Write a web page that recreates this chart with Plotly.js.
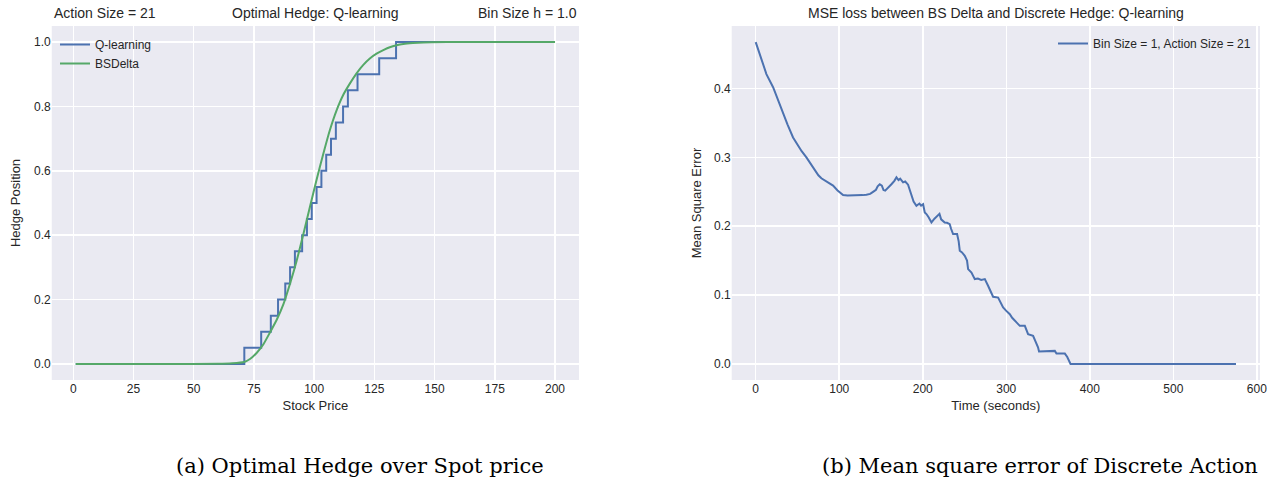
<!DOCTYPE html>
<html>
<head>
<meta charset="utf-8">
<script src="https://cdn.plot.ly/plotly-3.0.1.min.js"></script>
<style>
  html, body { margin: 0; padding: 0; background: #ffffff; }
  #chart { width: 1283px; height: 481px; }
</style>
</head>
<body>
<div id="chart"></div>
<script>
// ---------- Data ----------
// (a) Optimal hedge over spot price
const qPrice = [1, 71, 78, 82, 85, 88, 90, 92, 95, 97, 99, 101, 103, 105, 107, 109, 112, 114, 118, 127, 134, 200];
const qHedge = [0, 0.05, 0.10, 0.15, 0.20, 0.25, 0.30, 0.35, 0.40, 0.45, 0.50, 0.55, 0.60, 0.65, 0.70, 0.75, 0.80, 0.85, 0.90, 0.95, 1.00, 1.00];

const bsPrice = [1, 40, 60, 66, 70.9, 73.5, 76.1, 79, 81.6, 84.5, 87.2, 90, 92.7, 95.5, 98.2, 101, 103.8, 106.5, 109.3, 112, 114.8, 117.6, 120.4, 123.1, 125.9, 128.7, 131.4, 134.2, 137, 141, 145.3, 155, 170, 200];
const bsDelta = [0, 0, 0.0003, 0.002, 0.006, 0.016, 0.034, 0.062, 0.097, 0.138, 0.185, 0.250, 0.320, 0.403, 0.487, 0.572, 0.653, 0.726, 0.788, 0.835, 0.871, 0.903, 0.929, 0.949, 0.964, 0.975, 0.984, 0.990, 0.994, 0.997, 0.999, 1.0, 1.0, 1.0];

// (b) MSE between BS delta and discrete hedge
const mseTime = [0, 5.6, 12.8, 20.8, 26, 32.7, 38, 44.7, 50.7, 55, 60.7, 66, 70.7, 75, 78.6, 85, 92.6, 98, 104.6, 110, 116.6, 122, 128, 132.5, 137, 140.5, 144, 146, 148.5, 151, 153, 155, 158, 162.5, 166, 168.5, 171, 173, 176.4, 179, 182.4, 184, 186.4, 189, 192.4, 196, 198, 200.4, 202.4, 204.4, 207, 210.4, 214, 217, 220, 222, 226.3, 229, 232.3, 234, 236.3, 241.1, 243, 244.3, 247, 250.3, 253, 254.3, 258.3, 262.3, 266, 270, 274.3, 278.2, 281, 284.2, 290.2, 293, 296.2, 300, 304.2, 307, 310.2, 313, 316.2, 322.2, 324, 326.1, 332.1, 334, 336.1, 338, 339.2, 350, 358.1, 360.1, 370.1, 373, 376.9, 450, 575];
const mseLoss = [0.4675, 0.448, 0.421, 0.402, 0.385, 0.363, 0.348, 0.329, 0.317, 0.309, 0.300, 0.290, 0.281, 0.274, 0.2696, 0.265, 0.259, 0.252, 0.2453, 0.2445, 0.2444, 0.2450, 0.2452, 0.2458, 0.247, 0.250, 0.253, 0.258, 0.261, 0.259, 0.2525, 0.2516, 0.256, 0.261, 0.266, 0.271, 0.267, 0.269, 0.2637, 0.265, 0.2604, 0.255, 0.2444, 0.236, 0.2298, 0.233, 0.230, 0.232, 0.220, 0.2177, 0.213, 0.2055, 0.211, 0.215, 0.218, 0.210, 0.2055, 0.205, 0.203, 0.196, 0.1886, 0.1886, 0.178, 0.1644, 0.162, 0.157, 0.150, 0.1377, 0.1328, 0.1232, 0.124, 0.122, 0.1232, 0.1135, 0.106, 0.0975, 0.0964, 0.089, 0.0819, 0.077, 0.0722, 0.067, 0.0625, 0.059, 0.0553, 0.0553, 0.050, 0.0432, 0.0407, 0.036, 0.031, 0.024, 0.0179, 0.0185, 0.0189, 0.015, 0.015, 0.010, 0.0, 0.0, 0.0];

const leftXTicks = [0, 25, 50, 75, 100, 125, 150, 175, 200];
const leftYTicks = [0, 0.2, 0.4, 0.6, 0.8, 1.0];
const rightXTicks = [0, 100, 200, 300, 400, 500, 600];
const rightYTicks = [0, 0.1, 0.2, 0.3, 0.4];

// ---------- Styling ----------
const W = 1283, H = 481;
const FONT = "Liberation Sans, Arial, sans-serif";
const TXT = "#262626";
const BLUE = "#4C72B0", GREEN = "#55A868";
const px = v => v / W;
const py = v => 1 - v / H;

const traces = [
  { x: qPrice, y: qHedge, type: "scatter", mode: "lines", name: "Q-learning",
    line: { color: BLUE, width: 2, shape: "hv" }, xaxis: "x", yaxis: "y", legend: "legend" },
  { x: bsPrice, y: bsDelta, type: "scatter", mode: "lines", name: "BSDelta",
    line: { color: GREEN, width: 2, shape: "spline", smoothing: 0.6 }, xaxis: "x", yaxis: "y", legend: "legend" },
  { x: mseTime, y: mseLoss, type: "scatter", mode: "lines", name: "Bin Size = 1, Action Size = 21",
    line: { color: BLUE, width: 2 }, xaxis: "x2", yaxis: "y2", legend: "legend2" }
];

const axisCommon = {
  showgrid: true, gridcolor: "#ffffff", gridwidth: 1.5,
  zeroline: false, showline: false, ticks: "",
  tickfont: { family: FONT, size: 12, color: TXT },
  automargin: false, fixedrange: true
};
const yDom = [1 - 380 / H, 1 - 26 / H];

const layout = {
  width: W, height: H,
  margin: { l: 0, r: 0, t: 0, b: 0 },
  paper_bgcolor: "#ffffff",
  plot_bgcolor: "#EAEAF2",
  font: { family: FONT, color: TXT },
  xaxis: Object.assign({}, axisCommon, {
    domain: [px(51.75), px(579)], range: [-8.95, 209.95],
    tickvals: leftXTicks, ticktext: leftXTicks.map(String),
    title: { text: "Stock Price", font: { family: FONT, size: 13, color: TXT }, standoff: 5 },
    anchor: "y"
  }),
  yaxis: Object.assign({}, axisCommon, {
    domain: yDom, range: [-0.05, 1.05],
    tickvals: leftYTicks, ticktext: leftYTicks.map(v => v.toFixed(1)),
    title: { text: "Hedge Position", font: { family: FONT, size: 13, color: TXT }, standoff: 10 },
    anchor: "x"
  }),
  xaxis2: Object.assign({}, axisCommon, {
    domain: [px(731.7), px(1260)], range: [-28.75, 603.75],
    tickvals: rightXTicks, ticktext: rightXTicks.map(String),
    title: { text: "Time (seconds)", font: { family: FONT, size: 13, color: TXT }, standoff: 5 },
    anchor: "y2"
  }),
  yaxis2: Object.assign({}, axisCommon, {
    domain: yDom, range: [-0.0234, 0.4909],
    tickvals: rightYTicks, ticktext: rightYTicks.map(v => v.toFixed(1)),
    title: { text: "Mean Square Error", font: { family: FONT, size: 13, color: TXT }, standoff: 9 },
    anchor: "x2"
  }),
  legend: {
    x: px(55), y: py(30), xanchor: "left", yanchor: "top",
    bgcolor: "rgba(0,0,0,0)", borderwidth: 0,
    font: { family: FONT, size: 12, color: TXT }, tracegroupgap: 0
  },
  legend2: {
    x: px(1256), y: py(29), xanchor: "right", yanchor: "top",
    bgcolor: "rgba(0,0,0,0)", borderwidth: 0,
    font: { family: FONT, size: 12, color: TXT }
  },
  showlegend: true,
  annotations: [
    { text: "Action Size = 21", xref: "paper", yref: "paper", x: px(51.75), y: py(13),
      xanchor: "left", yanchor: "middle", showarrow: false, font: { family: FONT, size: 14, color: TXT } },
    { text: "Optimal Hedge: Q-learning", xref: "paper", yref: "paper", x: px(315.4), y: py(13),
      xanchor: "center", yanchor: "middle", showarrow: false, font: { family: FONT, size: 14, color: TXT } },
    { text: "Bin Size h = 1.0", xref: "paper", yref: "paper", x: px(579), y: py(13),
      xanchor: "right", yanchor: "middle", showarrow: false, font: { family: FONT, size: 14, color: TXT } },
    { text: "MSE loss between BS Delta and Discrete Hedge: Q-learning", xref: "paper", yref: "paper",
      x: px(995.8), y: py(13), xanchor: "center", yanchor: "middle", showarrow: false,
      font: { family: FONT, size: 14, color: TXT } },
    { text: "(a) Optimal Hedge over Spot price", xref: "paper", yref: "paper", x: px(360), y: py(466),
      xanchor: "center", yanchor: "middle", showarrow: false,
      font: { family: "DejaVu Serif, serif", size: 21, color: "#000000" } },
    { text: "(b) Mean square error of Discrete Action", xref: "paper", yref: "paper", x: px(1040), y: py(466),
      xanchor: "center", yanchor: "middle", showarrow: false,
      font: { family: "DejaVu Serif, serif", size: 21, color: "#000000" } }
  ]
};

Plotly.newPlot("chart", traces, layout, { staticPlot: true, displayModeBar: false });
</script>
</body>
</html>
